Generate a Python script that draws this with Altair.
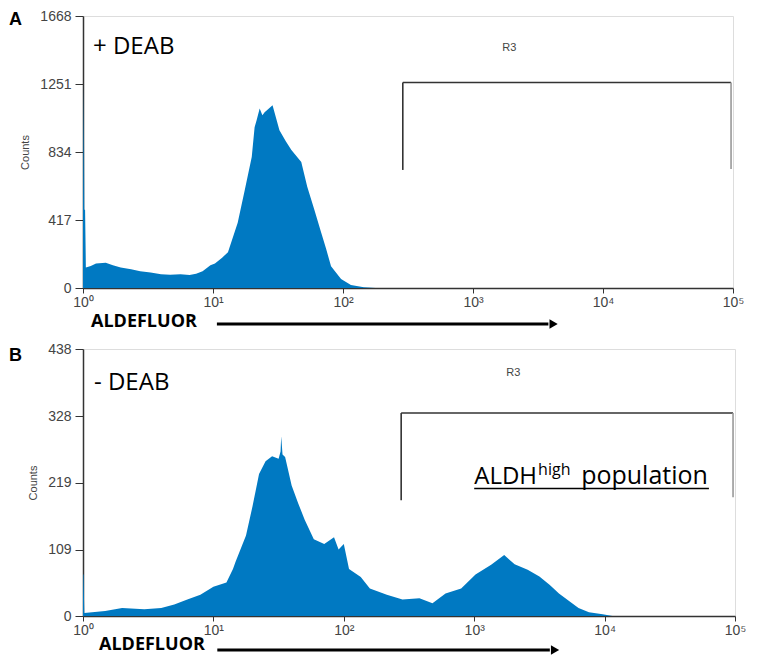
import altair as alt
import pandas as pd

# ---------------- data ----------------
# x positions are log10(ALDEFLUOR intensity); y are event counts
a_log = [0.0, 0.006, 0.010, 0.016, 0.022, 0.06, 0.10, 0.175, 0.23, 0.29, 0.37, 0.44, 0.52,
         0.60, 0.67, 0.75, 0.82, 0.87, 0.92, 0.98, 1.015, 1.07, 1.115, 1.19, 1.244, 1.298,
         1.32, 1.336, 1.359, 1.38, 1.397, 1.43, 1.458, 1.511, 1.56, 1.603, 1.679, 1.725,
         1.779, 1.832, 1.87, 1.908, 1.985, 2.061, 2.16, 2.25]
a_cnt = [480, 1251, 480, 480, 125, 135, 150, 155, 140, 125, 115, 103, 95,
         85, 82, 85, 80, 88, 103, 140, 150, 185, 220, 400, 600, 803,
         986, 1030, 1100, 1060, 1077, 1100, 1120, 968, 900, 846, 773, 621,
         481, 341, 240, 134, 55, 18, 5, 0]

b_log = [0.0, 0.004, 0.01, 0.17, 0.30, 0.47, 0.60, 0.70, 0.80, 0.90, 1.0, 1.10, 1.15,
         1.17, 1.25, 1.30, 1.35, 1.40, 1.45, 1.50, 1.515, 1.52, 1.53, 1.55, 1.60, 1.65,
         1.70, 1.77, 1.85, 1.925, 1.96, 2.0, 2.04, 2.13, 2.20, 2.33, 2.45, 2.58, 2.68,
         2.78, 2.90, 3.01, 3.13, 3.23, 3.31, 3.41, 3.50, 3.58, 3.65, 3.73, 3.80, 3.88,
         3.985, 4.06]
b_cnt = [68, 68, 5, 8, 13, 11, 13, 19, 27, 35, 48, 55, 77,
         89, 132, 180, 233, 254, 262, 258, 270, 295, 265, 261, 214, 185,
         158, 126, 118, 129, 109, 118, 77, 64, 45, 35, 27, 29, 21,
         37, 45, 68, 84, 100, 85, 76, 65, 51, 37, 24, 13, 6,
         3, 0]

x_ticks = [0, 1, 2, 3, 4, 5]
x_tick_labels = ["10⁰", "10¹", "10²", "10³", "10⁴", "10⁵"]
a_y_ticks = [0, 417, 834, 1251, 1668]
b_y_ticks = [0, 109, 219, 328, 438]

# R3 gate (left, right, top, left-bottom, right-bottom) per panel
gate_a = [2.46, 4.985, 1260, 724, 730]
gate_b = [2.44, 4.985, 333, 190, 195]
r3_a = [3.28, 1473]
r3_b = [3.30, 398]

BLUE = "#0079c2"
DARK = "#333333"
label_expr = "[" + ",".join("'%s'" % t for t in x_tick_labels) + "][datum.value]"


def panel(logs, cnts, yticks, w, h, letter, cond, gate, r3, cond_dx, cond_dy,
          letter_dy, aldef_dx, aldef_dy, arrow_dy, extra=None):
    ymax = yticks[-1]
    xs = alt.Scale(domain=[0, 5], nice=False, zero=False)
    ys = alt.Scale(domain=[0, ymax], nice=False, zero=True)
    df = pd.DataFrame({"x": logs, "y": cnts})
    area = alt.Chart(df).mark_area(color=BLUE, interpolate="linear").encode(
        x=alt.X("x:Q", scale=xs, axis=alt.Axis(
            values=x_ticks, labelExpr=label_expr, title=None, grid=False,
            labelFontSize=14, labelColor="#444", tickSize=5, tickColor=DARK,
            domainColor=DARK, domainWidth=1.5, labelPadding=2, labelFlush=False)),
        y=alt.Y("y:Q", scale=ys, axis=alt.Axis(
            values=yticks, format="d", title="Counts", grid=False, labelFontSize=14,
            labelColor="#444", tickSize=8, tickColor=DARK, domainColor=DARK,
            domainWidth=1.5, labelPadding=4, titleFontSize=11,
            titleFontWeight="normal", titleColor="#444", titlePadding=9)),
    )
    gdf_dark = pd.DataFrame({"x": [gate[0], gate[0]], "x2": [gate[1], gate[0]],
                             "y": [gate[2], gate[3]], "y2": [gate[2], gate[2]]})
    g1 = alt.Chart(gdf_dark).mark_rule(color=DARK, strokeWidth=1.6).encode(
        x="x:Q", x2="x2", y="y:Q", y2="y2")
    gdf_light = pd.DataFrame({"x": [gate[1]], "y": [gate[4]], "y2": [gate[2]]})
    g2 = alt.Chart(gdf_light).mark_rule(color="#999999", strokeWidth=1.6).encode(
        x="x:Q", y="y:Q", y2="y2")
    r3t = alt.Chart(pd.DataFrame({"x": [r3[0]], "y": [r3[1]], "t": ["R3"]})).mark_text(
        font="Liberation Sans", fontSize=11, color="#444", align="center",
        baseline="middle").encode(x="x:Q", y="y:Q", text="t:N")
    condt = alt.Chart(pd.DataFrame({"t": [cond]})).mark_text(
        font="Open Sans", fontSize=24, color="black", align="left",
        baseline="alphabetic").encode(x=alt.value(cond_dx), y=alt.value(cond_dy), text="t:N")
    lett = alt.Chart(pd.DataFrame({"t": [letter]})).mark_text(
        font="Liberation Sans", fontSize=18, fontWeight="bold", color="black",
        align="left", baseline="alphabetic").encode(
        x=alt.value(-74), y=alt.value(letter_dy), text="t:N")
    aldef = alt.Chart(pd.DataFrame({"t": ["ALDEFLUOR"]})).mark_text(
        font="Open Sans", fontSize=18, fontWeight="bold", color="black", align="left",
        baseline="alphabetic").encode(x=alt.value(aldef_dx), y=alt.value(h + aldef_dy), text="t:N")
    arr = alt.Chart(pd.DataFrame({"x": [1.03], "x2": [3.58]})).mark_rule(
        color="black", strokeWidth=3).encode(x="x:Q", x2="x2", y=alt.value(h + arrow_dy))
    head = alt.Chart(pd.DataFrame({"x": [3.62]})).mark_point(
        shape="triangle-right", filled=True, color="black", size=90, opacity=1).encode(
        x="x:Q", y=alt.value(h + arrow_dy))
    layers = [area, g1, g2, r3t, condt, lett, aldef, arr, head]
    if extra is not None:
        layers += extra
    return alt.layer(*layers).properties(width=w, height=h)


# ALDH-high population annotation (panel B)
aldh_df = pd.DataFrame({"x": [3.0], "y": [217], "t": ["ALDH"]})
high_df = pd.DataFrame({"x": [3.49], "y": [232], "t": ["high"]})
pop_df = pd.DataFrame({"x": [3.82], "y": [217], "t": ["population"]})
under_df = pd.DataFrame({"x": [3.0], "x2": [4.80], "y": [209]})
extra_b = [
    alt.Chart(aldh_df).mark_text(font="Open Sans", fontSize=24, align="left",
                                 baseline="alphabetic", color="black").encode(
        x="x:Q", y="y:Q", text="t:N"),
    alt.Chart(high_df).mark_text(font="Open Sans", fontSize=16, align="left",
                                 baseline="alphabetic", color="black").encode(
        x="x:Q", y="y:Q", text="t:N"),
    alt.Chart(pop_df).mark_text(font="Open Sans", fontSize=25, align="left",
                                baseline="alphabetic", color="black").encode(
        x="x:Q", y="y:Q", text="t:N"),
    alt.Chart(under_df).mark_rule(color="black", strokeWidth=1.5).encode(
        x="x:Q", x2="x2", y="y:Q"),
]

pa = panel(a_log, a_cnt, a_y_ticks, 650, 272, "A", "+ DEAB", gate_a, r3_a,
           10, 38, 9, 8, 39, 36)
pb = panel(b_log, b_cnt, b_y_ticks, 652, 267, "B", "- DEAB", gate_b, r3_b,
           11, 41, 12, 16, 34, 34, extra=extra_b)

chart = alt.vconcat(pa, pb, spacing=61, bounds="flush").properties(
    padding={"left": 0, "top": 0, "right": 0, "bottom": 0}
).configure_view(stroke=DARK, strokeWidth=1.5).configure(
    font="Liberation Sans", padding={"left": 0, "top": 0, "right": 0, "bottom": 0})

chart.save("out.html", embed_options={"renderer": "svg", "actions": False})
